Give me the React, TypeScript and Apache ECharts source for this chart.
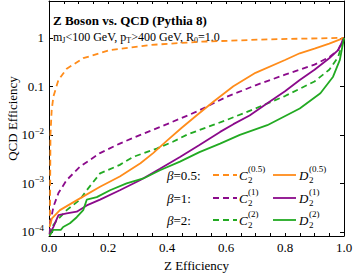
import { useEffect, useRef } from 'react';
import * as echarts from 'echarts';

// Z efficiency (x) and QCD efficiency (y)
const c05Z = [0.003, 0.004, 0.005, 0.009, 0.015, 0.032, 0.06, 0.116, 0.207, 0.34, 0.51, 0.74, 1.0];
const c05Q = [8.3e-5, 1.0e-3, 1.0e-2, 0.032, 0.062, 0.135, 0.23, 0.38, 0.56, 0.71, 0.83, 0.93, 1.0];

const d05Z = [0.002, 0.01, 0.037, 0.105, 0.173, 0.24, 0.31, 0.353, 0.4, 0.45, 0.5, 0.557, 0.625, 0.7, 0.8, 0.85, 0.9, 0.95, 1.0];
const d05Q = [1.25e-4, 1.9e-4, 2.8e-4, 4.9e-4, 8.5e-4, 1.38e-3, 2.6e-3, 4.2e-3, 7.6e-3, 0.014, 0.025, 0.048, 0.1, 0.19, 0.35, 0.48, 0.6, 0.76, 1.0];

const c1Z = [0.002, 0.005, 0.015, 0.032, 0.06, 0.105, 0.173, 0.24, 0.31, 0.4, 0.5, 0.6, 0.7, 0.8, 0.9, 0.95, 0.98, 1.0];
const c1Q = [8.9e-5, 1.6e-4, 3.3e-4, 6.3e-4, 1.17e-3, 2.2e-3, 4.2e-3, 6.6e-3, 0.01, 0.0166, 0.03, 0.06, 0.105, 0.174, 0.28, 0.4, 0.56, 1.0];

const d1Z = [0.002, 0.015, 0.032, 0.06, 0.094, 0.128, 0.173, 0.24, 0.31, 0.376, 0.444, 0.51, 0.58, 0.625, 0.68, 0.74, 0.8, 0.85, 0.9, 0.95, 0.98, 1.0];
const d1Q = [8.9e-5, 1.26e-4, 2.2e-4, 2.4e-4, 2.6e-4, 3.5e-4, 4.6e-4, 7.2e-4, 1.17e-3, 2.0e-3, 3.5e-3, 6.2e-3, 0.0115, 0.0166, 0.025, 0.045, 0.079, 0.135, 0.22, 0.38, 0.56, 1.0];

const c2Z = [0.002, 0.01, 0.026, 0.06, 0.105, 0.128, 0.173, 0.24, 0.285, 0.365, 0.42, 0.467, 0.51, 0.6, 0.7, 0.8, 0.9, 0.95, 0.98, 1.0];
const c2Q = [8.5e-5, 1.26e-4, 1.7e-4, 2.8e-4, 4.6e-4, 7.2e-4, 1.6e-3, 2.4e-3, 3.5e-3, 5.2e-3, 7.2e-3, 0.01, 0.0126, 0.02, 0.035, 0.063, 0.126, 0.22, 0.4, 1.0];

const d2Z = [0.002, 0.015, 0.04, 0.048, 0.071, 0.094, 0.116, 0.128, 0.162, 0.207, 0.263, 0.32, 0.376, 0.444, 0.51, 0.58, 0.647, 0.74, 0.85, 0.92, 0.963, 0.986, 1.0];
const d2Q = [8.3e-5, 1.1e-4, 1.1e-4, 1.26e-4, 1.5e-4, 2.0e-4, 2.8e-4, 4.6e-4, 5.2e-4, 7.2e-4, 1.0e-3, 1.26e-3, 1.86e-3, 2.8e-3, 4.4e-3, 6.6e-3, 0.01, 0.0158, 0.035, 0.072, 0.158, 0.35, 1.0];

const xTicks = [0, 0.2, 0.4, 0.6, 0.8, 1.0];
const yTickEff = [1e-4, 1e-3, 1e-2, 0.1, 1];
const yMinEff = 8.2e-5;
const yMaxEff = 5.75;
const betas = ['0.5', '1', '2'];

const ORANGE = '#ff8c1a';
const PURPLE = '#8b0a8b';
const GREEN = '#22aa22';
const FONT = 'Liberation Serif';

function pairs(zs: number[], qs: number[]) {
  return zs.map((z, i) => [z, Math.log10(qs[i])]);
}

export default function App() {
  const ref = useRef<HTMLDivElement>(null);
  useEffect(() => {
    if (!ref.current) return;
    const chart = echarts.init(ref.current, null, { renderer: 'svg' });
    const yLogTicks = yTickEff.map((v) => Math.round(Math.log10(v)));
    const xMinor: number[] = [];
    for (let i = 0; i <= 20; i++) xMinor.push(i / 20);

    const mk = (name: string, zs: number[], qs: number[], color: string, dashed: boolean) => ({
      name,
      type: 'line',
      data: pairs(zs, qs),
      showSymbol: false,
      symbol: 'none',
      clip: true,
      lineStyle: { color, width: 1.8, type: dashed ? [6, 4] : 'solid', cap: 'butt' },
    });

    const colors = [ORANGE, PURPLE, GREEN];
    const rowsY = [175, 198, 220];
    const graphics: any[] = [
      {
        type: 'text', x: 53, y: 20,
        style: { text: 'Z Boson vs. QCD (Pythia 8)', font: `bold 13px ${FONT}`, fill: '#000', align: 'left', verticalAlign: 'middle' },
      },
      {
        type: 'text', x: 53, y: 37,
        style: {
          text: 'm{s|J}<100 GeV, p{s|T}>400 GeV, R{s|0}=1.0',
          font: `12px ${FONT}`, fill: '#000', align: 'left', verticalAlign: 'middle',
          rich: { s: { fontSize: 8, fontFamily: FONT, padding: [6, 0, 0, 0] } },
        },
      },
    ];
    betas.forEach((b, i) => {
      const y = rowsY[i];
      const c = colors[i];
      const sup = `(${b})`;
      graphics.push(
        {
          type: 'text', x: 167, y,
          style: {
            text: `{i|β}=${b}:`, font: `13px ${FONT}`, fill: '#000', align: 'left', verticalAlign: 'middle',
            rich: { i: { fontStyle: 'italic', fontSize: 13, fontFamily: FONT } },
          },
        },
        { type: 'line', shape: { x1: 213, y1: y, x2: 237, y2: y }, style: { stroke: c, lineWidth: 1.8, lineDash: [6, 4] } },
        { type: 'text', x: 239, y, style: { text: 'C', font: `italic 13px ${FONT}`, fill: '#000', align: 'left', verticalAlign: 'middle' } },
        { type: 'text', x: 248, y: y + 5, style: { text: '2', font: `9px ${FONT}`, fill: '#000', align: 'left', verticalAlign: 'middle' } },
        { type: 'text', x: 248, y: y - 6, style: { text: sup, font: `9px ${FONT}`, fill: '#000', align: 'left', verticalAlign: 'middle' } },
        { type: 'line', shape: { x1: 273, y1: y, x2: 296, y2: y }, style: { stroke: c, lineWidth: 1.8 } },
        { type: 'text', x: 299, y, style: { text: 'D', font: `italic 13px ${FONT}`, fill: '#000', align: 'left', verticalAlign: 'middle' } },
        { type: 'text', x: 309, y: y + 5, style: { text: '2', font: `9px ${FONT}`, fill: '#000', align: 'left', verticalAlign: 'middle' } },
        { type: 'text', x: 309, y: y - 6, style: { text: sup, font: `9px ${FONT}`, fill: '#000', align: 'left', verticalAlign: 'middle' } },
      );
    });

    const axisLine = { show: true, onZero: false, lineStyle: { color: '#000', width: 1 } };
    const yMin = Math.log10(yMinEff);
    const yMax = Math.log10(yMaxEff);
    const yFmt = (v: number) => {
      const r = Math.round(v);
      if (r === 0) return '1';
      if (r === -1) return '0.1';
      return `{b|10}{s|−${-r}}`;
    };

    chart.setOption({
      animation: false,
      backgroundColor: '#fff',
      textStyle: { fontFamily: FONT },
      grid: { left: 49, right: 10, top: 1, bottom: 39, containLabel: false, outerBoundsMode: 'none' },
      xAxis: [
        {
          type: 'value', position: 'bottom', min: 0, max: 1, interval: 0.2,
          name: 'Z Efficiency', nameLocation: 'middle', nameGap: 23, nameMoveOverlap: false,
          nameTextStyle: { fontFamily: FONT, fontSize: 13, color: '#000' },
          axisLine, splitLine: { show: false },
          axisTick: { show: true, inside: true, length: 3, customValues: xMinor, lineStyle: { color: '#000' } },
          axisLabel: { customValues: xTicks, formatter: (v: number) => v.toFixed(1), fontFamily: FONT, fontSize: 13, color: '#000', margin: 5 },
        },
        {
          type: 'value', position: 'top', min: 0, max: 1, interval: 0.2,
          axisLine, splitLine: { show: false },
          axisTick: { show: true, inside: true, length: 3, customValues: xMinor, lineStyle: { color: '#000' } },
          axisLabel: { show: false },
        },
      ],
      yAxis: [
        {
          type: 'value', position: 'left', min: yMin, max: yMax,
          name: 'QCD Efficiency', nameLocation: 'middle', nameGap: 30, nameRotate: 90, nameMoveOverlap: false,
          nameTextStyle: { fontFamily: FONT, fontSize: 13, color: '#000' },
          axisLine, splitLine: { show: false },
          axisTick: { show: true, inside: true, length: 4, customValues: yLogTicks, lineStyle: { color: '#000' } },
          axisLabel: {
            customValues: yLogTicks, formatter: yFmt, fontFamily: FONT, fontSize: 13, color: '#000', margin: 5,
            rich: {
              b: { fontFamily: FONT, fontSize: 13, color: '#000' },
              s: { fontFamily: FONT, fontSize: 9, color: '#000', padding: [0, 0, 8, 0] },
            },
          },
        },
        {
          type: 'value', position: 'right', min: yMin, max: yMax,
          axisLine, splitLine: { show: false },
          axisTick: { show: true, inside: true, length: 4, customValues: yLogTicks, lineStyle: { color: '#000' } },
          axisLabel: { show: false },
        },
      ],
      series: [
        mk('C2 0.5', c05Z, c05Q, ORANGE, true),
        mk('C2 1', c1Z, c1Q, PURPLE, true),
        mk('C2 2', c2Z, c2Q, GREEN, true),
        mk('D2 0.5', d05Z, d05Q, ORANGE, false),
        mk('D2 1', d1Z, d1Q, PURPLE, false),
        mk('D2 2', d2Z, d2Q, GREEN, false),
      ],
      graphic: graphics,
    });
    return () => chart.dispose();
  }, []);
  return <div ref={ref} style={{ position: 'fixed', left: 0, top: 0, width: 354, height: 275 }} />;
}
